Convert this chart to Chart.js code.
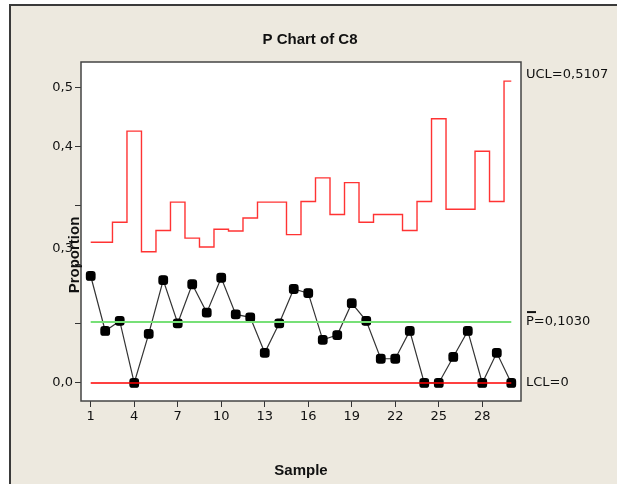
<!DOCTYPE html>
<html>
<head>
<meta charset="utf-8">
<script src="https://cdn.jsdelivr.net/npm/chart.js@4"></script>
<style>
  html, body { margin: 0; padding: 0; background: #fff; }
  #wrap { width: 617px; height: 484px; }
</style>
</head>
<body>
<div id="wrap"><canvas id="pChart" width="617" height="484"></canvas></div>
<script>
// data
const samples = [1, 2, 3, 4, 5, 6, 7, 8, 9, 10, 11, 12, 13, 14, 15,
                 16, 17, 18, 19, 20, 21, 22, 23, 24, 25, 26, 27, 28, 29, 30];
const proportion = [0.181, 0.088, 0.105, 0.000, 0.083, 0.174, 0.101, 0.167, 0.119, 0.178,
                    0.116, 0.111, 0.051, 0.101, 0.159, 0.152, 0.073, 0.081, 0.135, 0.105,
                    0.041, 0.041, 0.088, 0.000, 0.000, 0.044, 0.088, 0.000, 0.051, 0.000];
const ucl = [0.238, 0.238, 0.272, 0.426, 0.222, 0.258, 0.306, 0.245, 0.230, 0.260,
             0.257, 0.279, 0.306, 0.306, 0.251, 0.307, 0.347, 0.285, 0.339, 0.272,
             0.285, 0.285, 0.258, 0.307, 0.447, 0.294, 0.294, 0.392, 0.307, 0.5107];
const pBar = 0.1030;
const lcl = 0;
const xTicks = [1, 4, 7, 10, 13, 16, 19, 22, 25, 28];
const yTicks = [0, 0.1, 0.2, 0.228, 0.3, 0.4, 0.5];
const yLabels = { 0: '0,0', 0.228: '0,3', 0.4: '0,4', 0.5: '0,5' };

const first = samples[0], last = samples[samples.length - 1];
const pts = (ys) => samples.map((s, i) => ({ x: s, y: ys[i] }));

// frame, titles, right-side labels
const decor = {
  id: 'decor',
  beforeDraw(chart) {
    const c = chart.ctx;
    c.save();
    c.fillStyle = '#fff';
    c.fillRect(0, 0, 617, 484);
    c.fillStyle = '#ede9df';
    c.fillRect(10, 5, 607, 479);
    c.strokeStyle = '#3a3a3a';
    c.lineWidth = 2;
    c.beginPath();
    c.moveTo(10, 484); c.lineTo(10, 5); c.lineTo(617, 5);
    c.stroke();
    const a = chart.chartArea;
    c.fillStyle = '#fff';
    c.fillRect(a.left, a.top, a.right - a.left, a.bottom - a.top);
    c.restore();
  },
  afterDraw(chart) {
    const c = chart.ctx, a = chart.chartArea, y = chart.scales.y;
    c.save();
    c.strokeStyle = '#444';
    c.lineWidth = 1.5;
    c.strokeRect(a.left, a.top, a.right - a.left, a.bottom - a.top);
    c.fillStyle = '#111';
    c.textAlign = 'center';
    c.textBaseline = 'middle';
    c.font = 'bold 15px "Liberation Sans"';
    c.fillText('P Chart of C8', 310, 40);
    c.save();
    c.translate(75, 255);
    c.rotate(-Math.PI / 2);
    c.fillText('Proportion', 0, 0);
    c.restore();
    c.textAlign = 'left';
    c.font = '13px "DejaVu Sans"';
    c.fillText('UCL=0,5107', 526, y.getPixelForValue(ucl[ucl.length - 1]) - 6);
    const py = y.getPixelForValue(pBar);
    c.fillText('P=0,1030', 526, py);
    c.fillRect(527, py - 11, 9, 2);
    c.fillText('LCL=0', 526, y.getPixelForValue(lcl));
    c.restore();
  }
};

new Chart(document.getElementById('pChart'), {
  type: 'line',
  data: {
    datasets: [
      {
        label: 'UCL',
        data: pts(ucl),
        stepped: 'middle',
        borderColor: '#ff3333',
        borderWidth: 1.4,
        pointRadius: 0
      },
      {
        label: 'P',
        data: [{ x: first, y: pBar }, { x: last, y: pBar }],
        borderColor: '#77e077',
        borderWidth: 2,
        pointRadius: 0
      },
      {
        label: 'LCL',
        data: [{ x: first, y: lcl }, { x: last, y: lcl }],
        borderColor: '#ff0000',
        borderWidth: 1.5,
        pointRadius: 0
      },
      {
        label: 'Proportion',
        data: pts(proportion),
        borderColor: '#333',
        borderWidth: 1.2,
        pointStyle: 'rectRounded',
        pointRadius: 5,
        pointBackgroundColor: '#000',
        pointBorderColor: '#000',
        tension: 0
      }
    ]
  },
  options: {
    responsive: false,
    animation: false,
    events: [],
    layout: { padding: { top: 62, right: 96, left: 0, bottom: 0 } },
    plugins: { legend: { display: false }, tooltip: { enabled: false } },
    scales: {
      x: {
        type: 'linear',
        min: 0.33,
        max: 30.67,
        afterBuildTicks: (s) => { s.ticks = xTicks.map(v => ({ value: v })); },
        afterFit: (s) => { s.height = 83; },
        border: { display: false },
        grid: { drawOnChartArea: false, tickLength: 6, color: '#333' },
        ticks: {
          color: '#111',
          font: { family: 'DejaVu Sans', size: 13 },
          padding: 2,
          maxRotation: 0,
          callback: (v) => String(v)
        },
        title: {
          display: true,
          text: 'Sample',
          color: '#111',
          font: { family: 'Liberation Sans', size: 15, weight: 'bold' },
          padding: { top: 26 }
        }
      },
      y: {
        min: -0.0305,
        max: 0.543,
        afterBuildTicks: (s) => { s.ticks = yTicks.map(v => ({ value: v })); },
        afterFit: (s) => { s.width = 81; },
        border: { display: false },
        grid: {
          drawOnChartArea: false,
          tickLength: 6,
          color: (ctx) => (ctx.tick && ctx.tick.value === 0.228) ? 'rgba(0,0,0,0)' : '#333'
        },
        ticks: {
          color: '#111',
          font: { family: 'DejaVu Sans', size: 13 },
          padding: 2,
          callback: (v) => yLabels[v] || ''
        },
        title: { display: false }
      }
    }
  },
  plugins: [decor]
});
</script>
</body>
</html>
